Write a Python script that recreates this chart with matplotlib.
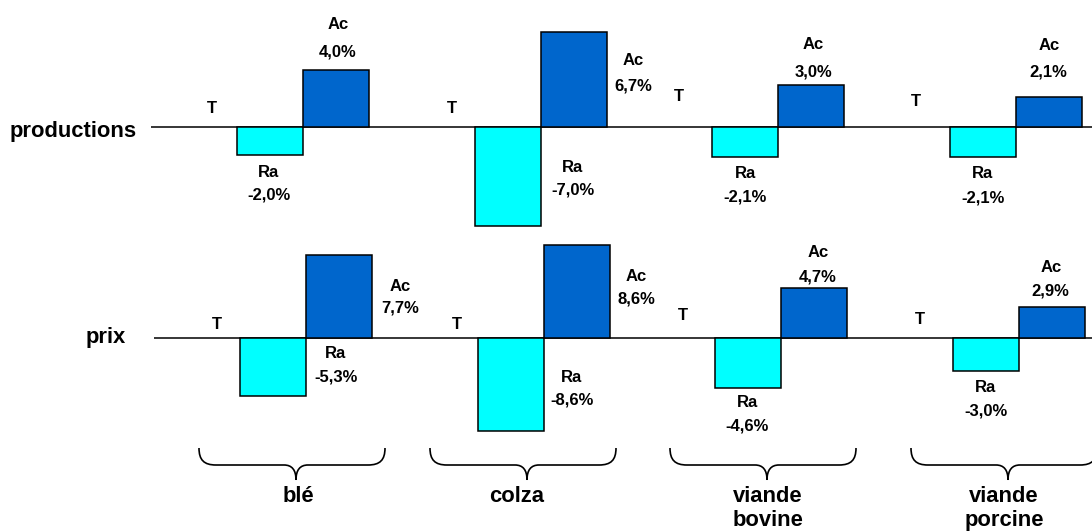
import matplotlib
matplotlib.use('Agg')
import matplotlib.pyplot as plt
from matplotlib.path import Path
from matplotlib.patches import PathPatch

plt.rcParams['font.family'] = ['Liberation Sans', 'DejaVu Sans']

# ---- data -------------------------------------------------------------
categories = ['blé', 'colza', 'viande\nbovine', 'viande\nporcine']
series = ['T', 'Ra', 'Ac']
row_names = ['productions', 'prix']

prod_T = [0.0, 0.0, 0.0, 0.0]
prod_Ra = [-2.0, -7.0, -2.1, -2.1]
prod_Ac = [4.0, 6.7, 3.0, 2.1]

prix_T = [0.0, 0.0, 0.0, 0.0]
prix_Ra = [-5.3, -8.6, -4.6, -3.0]
prix_Ac = [7.7, 8.6, 4.7, 2.9]

# ---- layout -----------------------------------------------------------
W, H = 1092, 531
STEP = 3.6                      # distance between groups (in bar widths)
XLIM = (-0.803, 13.455)
colors = {'T': 'white', 'Ra': '#00FFFF', 'Ac': '#0066CC'}
SMALL = 12
BIG = 15.8

# label offsets in pixels (dx, dy of name line, dy of value line), +dy = down
lab_prod = {
    'Ac': [(2, -46, -18), (60, 28, 54), (2, -40, -13), (0, -52, -25)],
    'Ra': [(-1, 17, 40), (65, -59, -36), (0, 17, 40), (0, 17, 41)],
    'T':  [(8, -18), (10, -18), (0, -30), (-1, -25)],
}
lab_prix = {
    'Ac': [(61, 31, 53), (60, 31, 54), (4, -35, -11), (-1, -39, -16)],
    'Ra': [(63, -42, -19), (61, -54, -31), (-1, 15, 38), (0, 17, 40)],
    'T':  [(10, -14), (12, -14), (1, -23), (0, -19)],
}
# brace left edges and category label shifts (pixels)
brace_left = [199, 430, 670, 911]
cat_dx = [2, -10, 1, -4]


def fmt(v):
    return ('%.1f%%' % v).replace('.', ',')


fig = plt.figure(figsize=(W / 100, H / 100), dpi=100)


def draw_row(rect, ylim, vals, labs):
    ax = fig.add_axes(rect)
    ax.set_xlim(*XLIM)
    ax.set_ylim(*ylim)
    ax.axis('off')
    ax.patch.set_alpha(0)
    ax.axhline(0, color='black', lw=1.1, zorder=1)
    for k, name in enumerate(series):
        xs = [g * STEP + k for g in range(len(categories))]
        if name != 'T':
            ax.bar(xs, vals[name], width=1.0, color=colors[name],
                   edgecolor='black', lw=1.1, zorder=2)
        for g, (x, v) in enumerate(zip(xs, vals[name])):
            off = labs[name][g]
            if name == 'T':
                ax.annotate('T', xy=(x, 0), xytext=(off[0], -off[1]),
                            textcoords='offset pixels', ha='center',
                            va='center', fontsize=SMALL, fontweight='bold')
                continue
            ax.annotate(name, xy=(x, v), xytext=(off[0], -off[1]),
                        textcoords='offset pixels', ha='center', va='center',
                        fontsize=SMALL, fontweight='bold')
            ax.annotate(fmt(v), xy=(x, v), xytext=(off[0], -off[2]),
                        textcoords='offset pixels', ha='center', va='center',
                        fontsize=SMALL, fontweight='bold')
    return ax


# productions row: baseline at y=127 px, 14.15 px per %
draw_row([151 / W, 0.5343, 941 / W, 0.4531], (-8.5, 8.5),
         {'T': prod_T, 'Ra': prod_Ra, 'Ac': prod_Ac}, lab_prod)
# prix row: baseline at y=338 px, 10.8 px per %
draw_row([154 / W, 0.1595, 941 / W, 0.4068], (-10, 10),
         {'T': prix_T, 'Ra': prix_Ra, 'Ac': prix_Ac}, lab_prix)

# overlay in pixel coordinates for row names, braces and categories
ov = fig.add_axes([0, 0, 1, 1])
ov.set_xlim(0, W)
ov.set_ylim(H, 0)
ov.axis('off')
ov.patch.set_alpha(0)

ov.text(137, 132, row_names[0], ha='right', va='center',
        fontsize=BIG, fontweight='bold')
ov.text(126, 338, row_names[1], ha='right', va='center',
        fontsize=BIG, fontweight='bold')


def brace(L, R, tip, top=448, mid=465, bot=480):
    verts = [(L, top), (L, mid - 5), (L + 5, mid), (L + 17, mid),
             (tip - 12, mid),
             (tip - 4, mid), (tip, mid + 5), (tip, bot),
             (tip, mid + 5), (tip + 4, mid), (tip + 12, mid),
             (R - 17, mid),
             (R - 5, mid), (R, mid - 5), (R, top)]
    codes = [Path.MOVETO] + [Path.CURVE4] * 3 + [Path.LINETO] + \
        [Path.CURVE4] * 6 + [Path.LINETO] + [Path.CURVE4] * 3
    ov.add_patch(PathPatch(Path(verts, codes), fill=False,
                           lw=1.2, color='black'))


for g, cat in enumerate(categories):
    L = brace_left[g]
    tip = L + 97
    brace(L, L + 186, tip)
    ov.text(tip + cat_dx[g], 486, cat, ha='center', va='top',
            fontsize=BIG, fontweight='bold', linespacing=1.17)

fig.savefig('out.png', dpi=100)
